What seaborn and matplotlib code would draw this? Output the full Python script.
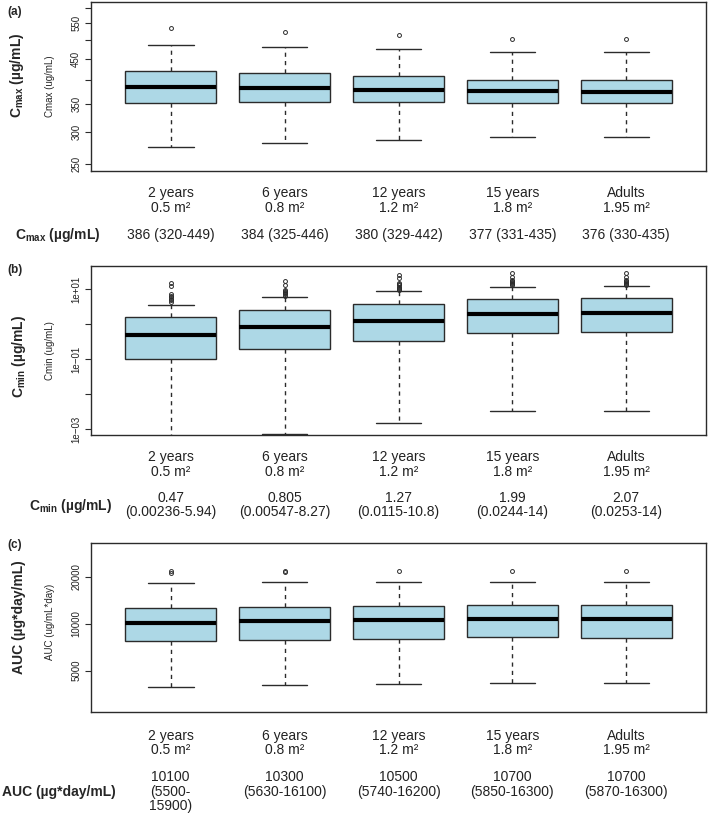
import matplotlib
matplotlib.use("Agg")
import matplotlib.pyplot as plt
import matplotlib.transforms as mtransforms
import pandas as pd
import seaborn as sns

sns.set_style("white")
plt.rcParams['font.family'] = ['Liberation Sans', 'DejaVu Sans']
plt.rcParams['mathtext.fontset'] = 'custom'
plt.rcParams['mathtext.rm'] = 'Liberation Sans'
plt.rcParams['mathtext.bf'] = 'Liberation Sans:bold'
plt.rcParams['mathtext.it'] = 'Liberation Sans:italic'

# groups / labels
groups = ["2 years", "6 years", "12 years", "15 years", "Adults"]
group_labels = ["2 years\n0.5 m²", "6 years\n0.8 m²", "12 years\n1.2 m²",
                "15 years\n1.8 m²", "Adults\n1.95 m²"]

cmax_text = ["386 (320-449)", "384 (325-446)", "380 (329-442)", "377 (331-435)", "376 (330-435)"]
cmin_text = ["0.47\n(0.00236-5.94)", "0.805\n(0.00547-8.27)", "1.27\n(0.0115-10.8)",
             "1.99\n(0.0244-14)", "2.07\n(0.0253-14)"]
auc_text = ["10100\n(5500-\n15900)", "10300\n(5630-16100)", "10500\n(5740-16200)",
            "10700\n(5850-16300)", "10700\n(5870-16300)"]

# box statistics
cmax_lo = [275, 281, 286, 291, 291]
cmax_q1 = [353, 355, 355, 353, 353]
cmax_med = [385, 382, 379, 377, 375]
cmax_q3 = [421, 416, 409, 401, 400]
cmax_hi = [487, 482, 477, 469, 468]
cmax_out = [[534], [524], [515], [504], [503]]

cmin_lo = [0.0003, 0.00072, 0.00148, 0.00327, 0.00327]
cmin_q1 = [0.098, 0.189, 0.327, 0.553, 0.604]
cmin_med = [0.474, 0.80, 1.24, 1.97, 2.06]
cmin_q3 = [1.62, 2.57, 3.73, 5.3, 5.4]
cmin_hi = [3.57, 6.1, 8.6, 11.4, 12.4]
cmin_out = [[4.3, 4.8, 5.3, 5.9, 6.5, 7.2, 12.2, 15.0],
            [6.5, 7.0, 7.6, 8.2, 8.8, 9.4, 13.3, 17.3],
            [9.2, 10.0, 10.8, 11.7, 12.6, 13.8, 15.0, 20.2, 25.1],
            [12.8, 13.6, 14.5, 15.5, 16.6, 18.0, 22.5, 28.1],
            [13.0, 13.8, 14.6, 15.6, 16.8, 18.2, 21.6, 29.2]]

auc_lo = [3930, 4040, 4090, 4180, 4180]
auc_q1 = [7780, 7900, 8020, 8175, 8100]
auc_med = [10150, 10450, 10550, 10700, 10700]
auc_q3 = [12540, 12730, 12980, 13230, 13230]
auc_hi = [18300, 18640, 18550, 18550, 18550]
auc_out = [[21200, 21700], [21400, 21800], [21800], [21900], [21900]]


def build_sample(lo, q1, med, q3, hi, fliers, k=10):
    # 4k+1 values whose quartiles land exactly on q1 / med / q3
    return ([lo] + [q1] * (2 * k - 1) + [med] + [q3] * (2 * k - 1 - len(fliers))
            + [hi] + list(fliers))


W, H = 709, 816
fig = plt.figure(figsize=(W / 100, H / 100), dpi=100)


def px(x, y):
    return x / W, 1 - y / H


def make_axes(top, bottom, left=91, right=706):
    return fig.add_axes([left / W, 1 - bottom / H, (right - left) / W, (bottom - top) / H])


edge = '#2b2b2b'


def draw_panel(ax, lo, q1, med, q3, hi, out):
    rows = []
    for i, g in enumerate(groups):
        for v in build_sample(lo[i], q1[i], med[i], q3[i], hi[i], out[i]):
            rows.append((g, v))
    df = pd.DataFrame(rows, columns=['group', 'value'])
    sns.boxplot(data=df, x='group', y='value', order=groups, ax=ax,
                color='#ADD8E6', saturation=1, width=0.8, whis=1.5,
                linecolor=edge, linewidth=1.0,
                medianprops={'color': 'black', 'linewidth': 3},
                whiskerprops={'linestyle': (0, (3, 3)), 'color': edge},
                capprops={'color': edge},
                flierprops={'marker': 'o', 'markersize': 2.8, 'markerfacecolor': 'none',
                            'markeredgecolor': edge, 'markeredgewidth': 0.7})
    ax.set_yscale('log')
    ax.minorticks_off()
    ax.set_xlim(-0.70, 4.70)
    ax.set_xticks([])
    ax.set_xlabel('')
    ax.set_ylabel('')
    for s in ax.spines.values():
        s.set_visible(True)
        s.set_color(edge)
        s.set_linewidth(1.0)
    ax.tick_params(axis='y', direction='out', length=4, width=0.8, color=edge,
                   labelsize=7, pad=3, left=True)


ax1 = make_axes(2, 171)
draw_panel(ax1, cmax_lo, cmax_q1, cmax_med, cmax_q3, cmax_hi, cmax_out)
ax1.set_ylim(241, 619)
ax1.set_yticks([250, 300, 350, 400, 450, 500, 550, 600])
ax1.set_yticklabels(['250', '300', '350', '', '450', '', '550', ''])

ax2 = make_axes(266, 435)
draw_panel(ax2, cmin_lo, cmin_q1, cmin_med, cmin_q3, cmin_hi, cmin_out)
ax2.set_ylim(6.74e-4, 45.4)
ax2.set_yticks([1e-3, 1e-2, 1e-1, 1, 10])
ax2.set_yticklabels(['1e\u221203', '', '1e\u221201', '', '1e+01'])

ax3 = make_axes(543, 712)
draw_panel(ax3, auc_lo, auc_q1, auc_med, auc_q3, auc_hi, auc_out)
ax3.set_ylim(2717, 32900)
ax3.set_yticks([5000, 10000, 20000])
ax3.set_yticklabels(['5000', '10000', '20000'])

for ax in (ax1, ax2, ax3):
    for lab in ax.get_yticklabels():
        lab.set_rotation(90)
        lab.set_va('center')
        lab.set_color('#222222')

# category labels and value rows under each panel
specs = [(ax1, cmax_text, -0.175, -0.337),
         (ax2, cmin_text, -0.175, -0.331),
         (ax3, auc_text, -0.183, -0.343)]
for ax, vals, ylab, yval in specs:
    trans = mtransforms.blended_transform_factory(ax.transData, ax.transAxes)
    for i, lab in enumerate(group_labels):
        ax.text(i, ylab, lab, transform=trans, ha='center', va='center',
                fontsize=10, linespacing=1.05, color='#222222')
        ax.text(i, yval, vals[i], transform=trans, ha='center', va='top',
                fontsize=10, linespacing=1.05, color='#222222')

# small axis titles
fig.text(*px(50, 86.5), 'Cmax (ug/mL)', rotation=90, ha='center', va='center', fontsize=7)
fig.text(*px(50, 350.5), 'Cmin (ug/mL)', rotation=90, ha='center', va='center', fontsize=7)
fig.text(*px(50, 622), 'AUC (ug/mL*day)', rotation=90, ha='center', va='center', fontsize=7)

# bold axis titles
fig.text(*px(17, 75), r'$\mathbf{C_{max}}$ (µg/mL)', rotation=90, ha='center', va='center',
         fontsize=10, fontweight='bold')
fig.text(*px(19, 356), r'$\mathbf{C_{min}}$ (µg/mL)', rotation=90, ha='center', va='center',
         fontsize=10, fontweight='bold')
fig.text(*px(19, 617), 'AUC (µg*day/mL)', rotation=90, ha='center', va='center',
         fontsize=10, fontweight='bold')

# row labels
fig.text(*px(15, 235), r'$\mathbf{C_{max}}$ (µg/mL)', ha='left', va='center',
         fontsize=10, fontweight='bold')
fig.text(*px(29, 506), r'$\mathbf{C_{min}}$ (µg/mL)', ha='left', va='center',
         fontsize=10, fontweight='bold')
fig.text(*px(2, 792), 'AUC (µg*day/mL)', ha='left', va='center',
         fontsize=10, fontweight='bold')

# panel letters
fig.text(*px(7, 12), '(a)', ha='left', va='center', fontsize=8.5, fontweight='bold')
fig.text(*px(7, 270), '(b)', ha='left', va='center', fontsize=8.5, fontweight='bold')
fig.text(*px(7, 545), '(c)', ha='left', va='center', fontsize=8.5, fontweight='bold')

fig.savefig('out.png', dpi=100, facecolor='white')
